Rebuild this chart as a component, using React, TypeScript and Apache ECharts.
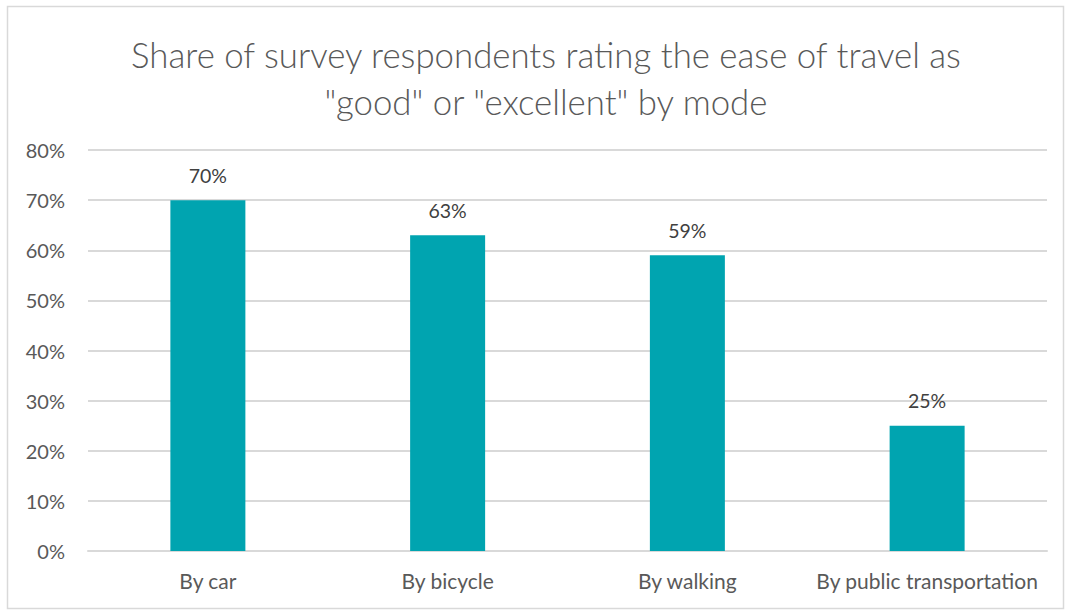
import React, { useEffect, useRef } from "react";
import * as echarts from "echarts";

const categories = ["By car", "By bicycle", "By walking", "By public transportation"];
const values = [70, 63, 59, 25];
const yTicks = [0, 10, 20, 30, 40, 50, 60, 70, 80];
const titleText = 'Share of survey respondents rating the ease of travel as\n"good" or "excellent" by mode';

export default function App() {
  const ref = useRef<HTMLDivElement>(null);
  useEffect(() => {
    document.body.style.margin = "0";
    const chart = echarts.init(ref.current!, null, { renderer: "svg" });
    const font = "Lato, 'Open Sans', sans-serif";
    chart.setOption({
      animation: false,
      backgroundColor: "#ffffff",
      title: {
        text: titleText,
        left: 541,
        top: 26,
        textAlign: "center",
        textStyle: {
          fontFamily: font,
          fontSize: 34.8,
          fontWeight: 300,
          color: "#595959",
          lineHeight: 47,
        },
      },
      graphic: [
        {
          type: "rect",
          shape: { x: 7.5, y: 6.5, width: 1056, height: 602 },
          style: { fill: "none", stroke: "#d9d9d9", lineWidth: 1.5 },
          silent: true,
        },
      ],
      grid: { left: 88, right: 18, top: 150, bottom: 59 },
      xAxis: {
        type: "category",
        data: categories,
        axisLine: { show: true, lineStyle: { color: "#d9d9d9", width: 2 } },
        axisTick: { show: false },
        axisLabel: { color: "#595959", fontSize: 21, fontFamily: font, margin: 19, interval: 0 },
      },
      yAxis: {
        type: "value",
        min: yTicks[0],
        max: yTicks[yTicks.length - 1],
        interval: 10,
        axisLine: { show: false },
        axisTick: { show: false },
        splitLine: { lineStyle: { color: "#d9d9d9", width: 2 } },
        axisLabel: {
          color: "#595959",
          fontSize: 20,
          fontFamily: font,
          margin: 23,
          formatter: (v: number) => v + "%",
        },
      },
      series: [
        {
          type: "bar",
          data: values,
          barWidth: 75,
          itemStyle: { color: "#00A4B0" },
          label: {
            show: true,
            position: "top",
            distance: 15,
            color: "#404040",
            fontSize: 19.5,
            fontFamily: font,
            formatter: (p: any) => p.value + "%",
          },
        },
      ],
    });
    return () => chart.dispose();
  }, []);
  return <div ref={ref} style={{ width: 1065, height: 610 }} />;
}
